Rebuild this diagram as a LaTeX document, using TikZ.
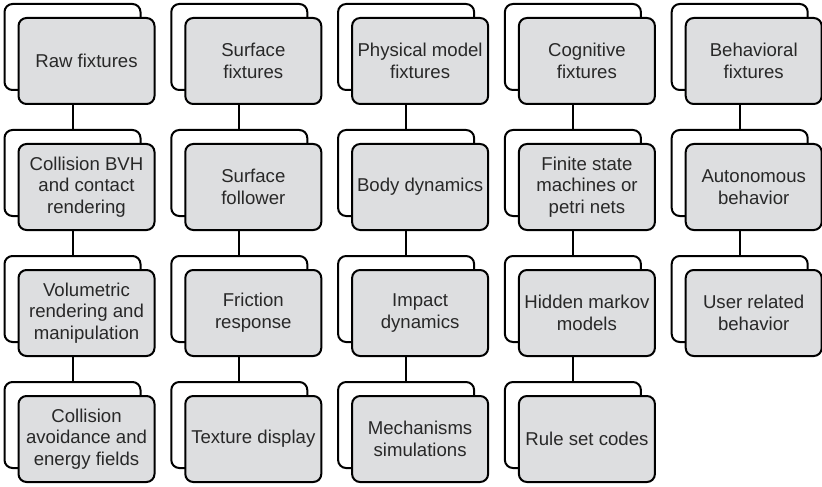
\documentclass[tikz,border=0pt]{standalone}
\usepackage{fontspec}
\setmainfont{Liberation Sans}
\usepackage{tikz}
\usetikzlibrary{calc}
\definecolor{boxgray}{RGB}{221,222,224}
\definecolor{txtgray}{RGB}{40,40,40}
\tikzset{
  backbox/.style={draw,rounded corners=4pt,line width=1pt,fill=white,
    minimum width=68pt,minimum height=43pt,inner sep=0pt},
  frontbox/.style={draw,rounded corners=4pt,line width=1pt,fill=boxgray,
    minimum width=68pt,minimum height=43pt,inner sep=0pt,align=center,
    text=txtgray,font=\fontsize{9.3}{10.9}\selectfont},
  link/.style={line width=1pt},
  every node/.style={font=\small}
}
\begin{document}
\begin{tikzpicture}[x=0.5pt,y=-0.5pt]
\useasboundingbox (0,0) rectangle (822,486);
% stacked boxes, column by column
\foreach \c/\r/\txt in {
  1/1/{Raw fixtures},
  1/2/{Collision BVH\\and contact\\rendering},
  1/3/{Volumetric\\rendering and\\manipulation},
  1/4/{Collision\\avoidance and\\energy fields},
  2/1/{Surface\\fixtures},
  2/2/{Surface\\follower},
  2/3/{Friction\\response},
  2/4/{Texture display},
  3/1/{Physical model\\fixtures},
  3/2/{Body dynamics},
  3/3/{Impact\\dynamics},
  3/4/{Mechanisms\\simulations},
  4/1/{Cognitive\\fixtures},
  4/2/{Finite state\\machines or\\petri nets},
  4/3/{Hidden markov\\models},
  4/4/{Rule set codes},
  5/1/{Behavioral\\fixtures},
  5/2/{Autonomous\\behavior},
  5/3/{User related\\behavior}}
{
  \node[backbox] (back-\c-\r) at ({72.5+166.8*(\c-1)},{47+126*(\r-1)}) {};
  \node[frontbox] (front-\c-\r) at ({86.5+166.8*(\c-1)},{61+126*(\r-1)}) {\txt};
}
% vertical links
\foreach \c/\r/\s in {1/1/2,1/2/3,1/3/4,2/1/2,2/2/3,2/3/4,3/1/2,3/2/3,3/3/4,
                      4/1/2,4/2/3,4/3/4,5/1/2,5/2/3}
  \draw[link] (back-\c-\r.center |- front-\c-\r.south) -- (back-\c-\s.north);
\end{tikzpicture}
\end{document}
